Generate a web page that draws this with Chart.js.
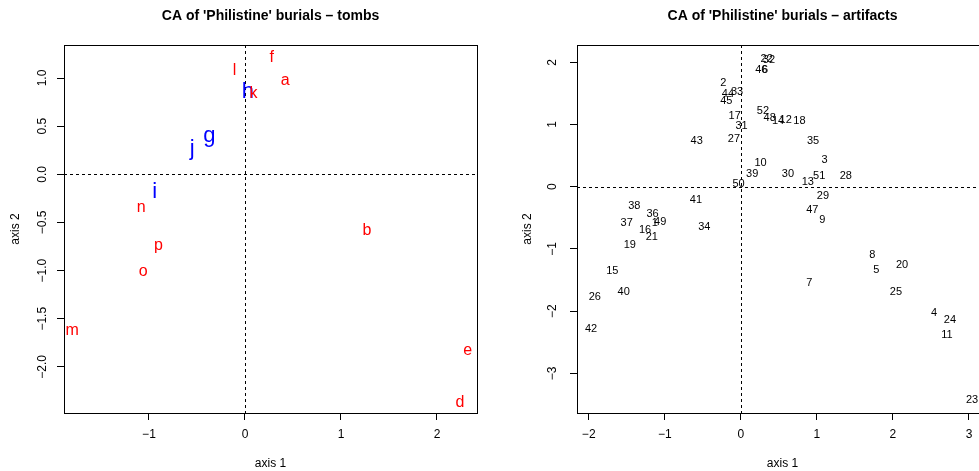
<!DOCTYPE html>
<html>
<head>
<meta charset="utf-8">
<title>CA of 'Philistine' burials</title>
<script src="https://cdn.jsdelivr.net/npm/chart.js@4/dist/chart.umd.min.js"></script>
<style>
  html, body { margin: 0; padding: 0; background: #fff; overflow: hidden; width: 979px; height: 471px; }
  canvas { position: absolute; top: 0; }
  #tombs { left: 0; }
  #artifacts { left: 490px; }
</style>
</head>
<body>
<canvas id="tombs" width="490" height="471"></canvas>
<canvas id="artifacts" width="520" height="471"></canvas>
<script>
// Tomb scores on the first two CA axes (red: tombs, blue: the g-j group)
const tombNamesRed  = ['a', 'b', 'd', 'e', 'f', 'k', 'l', 'm', 'n', 'o', 'p'];
const tombAxis1Red  = [0.42, 1.27, 2.24, 2.32, 0.28, 0.09, -0.11, -1.80, -1.08, -1.06, -0.90];
const tombAxis2Red  = [0.97, -0.58, -2.37, -1.83, 1.21, 0.84, 1.08, -1.62, -0.35, -1.01, -0.74];
const tombNamesBlue = ['g', 'h', 'i', 'j'];
const tombAxis1Blue = [-0.37, 0.03, -0.94, -0.55];
const tombAxis2Blue = [0.40, 0.86, -0.18, 0.26];

// Artifact-type scores on the first two CA axes
const artifactIds = ['1','2','3','4','5','6','7','8','9','10','11','12','13','14','15','16','17','18','19','20','21','22','23','24','25','26',
                     '27','28','29','30','31','32','33','34','35','36','37','38','39','40','41','42','43','44','45','46','47','48','49','50','51','52'];
const artifactAxis1 = [-1.13, -0.23, 1.10, 2.54, 1.78, 0.32, 0.90, 1.73, 1.07, 0.26, 2.71, 0.59, 0.88, 0.49, -1.69, -1.26, -0.08, 0.77, -1.46, 2.12, -1.17, 0.34, 3.04, 2.75, 2.04, -1.92,
                       -0.09, 1.38, 1.08, 0.62, 0.01, 0.37, -0.05, -0.48, 0.95, -1.16, -1.50, -1.40, 0.15, -1.54, -0.59, -1.97, -0.58, -0.17, -0.19, 0.27, 0.94, 0.38, -1.06, -0.03, 1.03, 0.29];
const artifactAxis2 = [-0.59, 1.66, 0.43, -2.03, -1.34, 1.88, -1.55, -1.09, -0.54, 0.38, -2.38, 1.07, 0.07, 1.06, -1.36, -0.69, 1.14, 1.05, -0.94, -1.26, -0.81, 2.06, -3.43, -2.14, -1.69, -1.77,
                       0.76, 0.17, -0.15, 0.20, 0.98, 2.03, 1.53, -0.65, 0.74, -0.44, -0.59, -0.31, 0.20, -1.70, -0.21, -2.28, 0.74, 1.49, 1.38, 1.88, -0.38, 1.10, -0.56, 0.04, 0.18, 1.21];

// Tick positions and their printed labels
const tombTicks1      = [-1, 0, 1, 2];
const tombTickLabels1 = ['\u22121', '0', '1', '2'];
const tombTicks2      = [-2, -1.5, -1, -0.5, 0, 0.5, 1];
const tombTickLabels2 = ['\u22122.0', '\u22121.5', '\u22121.0', '\u22120.5', '0.0', '0.5', '1.0'];
const artTicks1       = [-2, -1, 0, 1, 2, 3];
const artTickLabels1  = ['\u22122', '\u22121', '0', '1', '2', '3'];
const artTicks2       = [-3, -2, -1, 0, 1, 2];
const artTickLabels2  = ['\u22123', '\u22122', '\u22121', '0', '1', '2'];

const FONT = '"Liberation Sans", Arial, Helvetica, sans-serif';

function points(xs, ys) {
  return xs.map((x, i) => ({ x: x, y: ys[i] }));
}

// Dashed zero lines, the plot box and the panel title
const frame = {
  id: 'frame',
  beforeDatasetsDraw(chart) {
    const { ctx, chartArea: a, scales: { x, y } } = chart;
    const x0 = Math.round(x.getPixelForValue(0)) + 0.5;
    const y0 = Math.round(y.getPixelForValue(0)) + 0.5;
    ctx.save();
    ctx.strokeStyle = '#000';
    ctx.lineWidth = 1;
    ctx.setLineDash([3, 3]);
    ctx.beginPath();
    ctx.moveTo(x0, a.top);
    ctx.lineTo(x0, a.bottom);
    ctx.moveTo(a.left, y0);
    ctx.lineTo(a.right, y0);
    ctx.stroke();
    ctx.restore();
  },
  afterDraw(chart, args, opts) {
    const { ctx, chartArea: a } = chart;
    ctx.save();
    ctx.strokeStyle = '#000';
    ctx.lineWidth = 1;
    ctx.strokeRect(Math.round(a.left) + 0.5, Math.round(a.top) + 0.5,
                   Math.round(a.right - a.left), Math.round(a.bottom - a.top));
    ctx.fillStyle = '#000';
    ctx.font = 'bold 14px ' + FONT;
    ctx.textAlign = 'center';
    ctx.textBaseline = 'middle';
    ctx.fillText(opts.text, (a.left + a.right) / 2, opts.y);
    ctx.restore();
  }
};

// Each point is shown by its name, centred on the point and clipped to the plot box
const textLabels = {
  id: 'textLabels',
  afterDatasetsDraw(chart) {
    const { ctx, chartArea: a } = chart;
    ctx.save();
    ctx.beginPath();
    ctx.rect(a.left, a.top, a.right - a.left, a.bottom - a.top);
    ctx.clip();
    ctx.textAlign = 'center';
    ctx.textBaseline = 'middle';
    chart.data.datasets.forEach((ds, di) => {
      const meta = chart.getDatasetMeta(di);
      ctx.fillStyle = ds.textColor;
      ctx.font = ds.textSize + 'px ' + FONT;
      meta.data.forEach((pt, i) => ctx.fillText(ds.names[i], pt.x, pt.y));
    });
    ctx.restore();
  }
};

function axis(o) {
  const vertical = o.position === 'left';
  return {
    type: 'linear',
    position: o.position,
    min: o.min,
    max: o.max,
    afterFit(s) {
      if (vertical) s.width = o.size; else s.height = o.size;
    },
    afterBuildTicks(s) {
      s.ticks = o.ticks.map(v => ({ value: v }));
    },
    grid: { drawOnChartArea: false, drawTicks: true, tickLength: 7, color: '#000', lineWidth: 1 },
    border: { display: true, color: '#000', width: 1 },
    ticks: {
      color: '#000',
      font: { family: FONT, size: 12 },
      padding: o.tickPad,
      autoSkip: false,
      minRotation: vertical ? 90 : 0,
      maxRotation: vertical ? 90 : 0,
      crossAlign: vertical ? 'center' : 'near',
      callback: (v) => o.labels[o.ticks.indexOf(v)]
    },
    title: {
      display: true,
      text: o.title,
      color: '#000',
      font: { family: FONT, size: 12 },
      padding: o.titlePad
    }
  };
}

function panel(id, p) {
  return new Chart(document.getElementById(id), {
    type: 'scatter',
    data: { datasets: p.datasets },
    options: {
      responsive: false,
      animation: false,
      events: [],
      layout: { padding: p.padding },
      elements: { point: { radius: 0, hoverRadius: 0 } },
      plugins: {
        legend: { display: false },
        tooltip: { enabled: false },
        frame: { text: p.title, y: 16.5 }
      },
      scales: { x: axis(p.x), y: axis(p.y) }
    },
    plugins: [frame, textLabels]
  });
}

panel('tombs', {
  title: "CA of 'Philistine' burials \u2013 tombs",
  padding: { left: 0, top: 45, right: 13, bottom: 0 },
  datasets: [
    { data: points(tombAxis1Blue, tombAxis2Blue), names: tombNamesBlue, textColor: '#0000ff', textSize: 22 },
    { data: points(tombAxis1Red, tombAxis2Red), names: tombNamesRed, textColor: '#ff0000', textSize: 16 }
  ],
  x: { position: 'bottom', min: -1.885, max: 2.417, size: 58, ticks: tombTicks1, labels: tombTickLabels1,
       tickPad: 7, title: 'axis 1', titlePad: { top: 0, bottom: 0 } },
  y: { position: 'left', min: -2.479, max: 1.343, size: 64, ticks: tombTicks2, labels: tombTickLabels2,
       tickPad: 2, title: 'axis 2', titlePad: { top: 8, bottom: 0 } }
});

panel('artifacts', {
  title: "CA of 'Philistine' burials \u2013 artifacts",
  padding: { left: 0, top: 45, right: 22, bottom: 0 },
  datasets: [
    { data: points(artifactAxis1, artifactAxis2), names: artifactIds, textColor: '#000000', textSize: 11 }
  ],
  x: { position: 'bottom', min: -2.154, max: 3.25, size: 58, ticks: artTicks1, labels: artTickLabels1,
       tickPad: 7, title: 'axis 1', titlePad: { top: 0, bottom: 0 } },
  y: { position: 'left', min: -3.638, max: 2.278, size: 87, ticks: artTicks2, labels: artTickLabels2,
       tickPad: 10, title: 'axis 2', titlePad: { top: 30, bottom: 0 } }
});
</script>
</body>
</html>
